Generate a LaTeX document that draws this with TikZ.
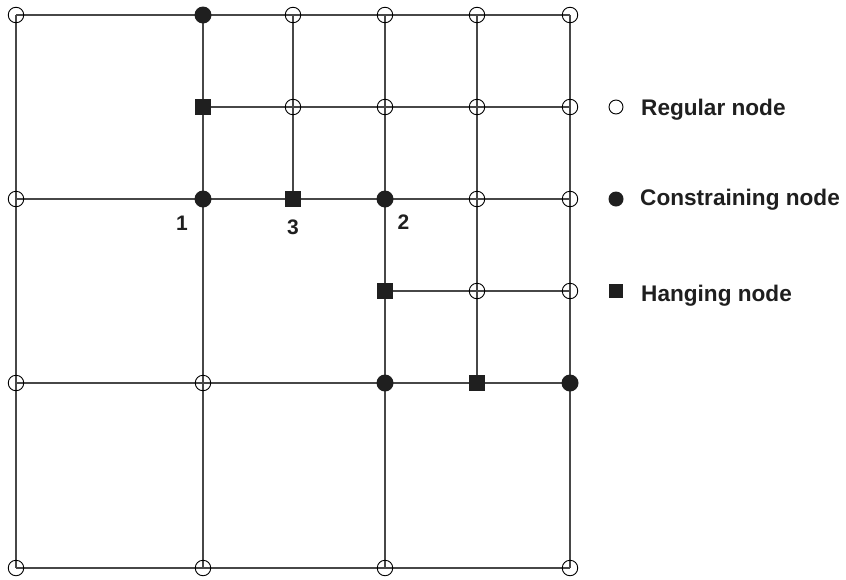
\documentclass[tikz,border=0pt]{standalone}
\usepackage{fontspec}
\setmainfont{Liberation Sans}
\usetikzlibrary{backgrounds}
\begin{document}
\begin{tikzpicture}[x=1pt,y=-1pt,
 reg/.style={circle,draw=black,line width=0.9pt,minimum size=15.5pt,inner sep=0pt},
 con/.style={circle,fill=black!88,minimum size=17pt,inner sep=0pt},
 hang/.style={rectangle,fill=black!88,minimum size=16.5pt,inner sep=0pt},
 gridline/.style={draw=black!72,line width=1.3pt},
 lbl/.style={font=\fontsize{21}{25}\selectfont\bfseries,inner sep=0pt,text=black!88},
 leglbl/.style={font=\fontsize{22.6}{27}\selectfont\bfseries,inner sep=0pt,text=black!88},
 legreg/.style={circle,draw=black,line width=0.9pt,minimum size=14pt,inner sep=0pt},
 legcon/.style={circle,fill=black!88,minimum size=15pt,inner sep=0pt},
 leghang/.style={rectangle,fill=black!88,minimum size=14.5pt,inner sep=0pt}]
\useasboundingbox (0,0) rectangle (846,579);
% columns: 16,203,293,385,477,570 ; rows: 15,107,199,291,383,568
% row 0
\node[reg]  (a0) at (16,15) {};
\node[con]  (b0) at (203,15) {};
\node[reg]  (c0) at (293,15) {};
\node[reg]  (d0) at (385,15) {};
\node[reg]  (e0) at (477,15) {};
\node[reg]  (f0) at (570,15) {};
% row 1
\node[hang] (b1) at (203,107) {};
\node[reg]  (c1) at (293,107) {};
\node[reg]  (d1) at (385,107) {};
\node[reg]  (e1) at (477,107) {};
\node[reg]  (f1) at (570,107) {};
% row 2
\node[reg]  (a2) at (16,199) {};
\node[con]  (b2) at (203,199) {};
\node[hang] (c2) at (293,199) {};
\node[con]  (d2) at (385,199) {};
\node[reg]  (e2) at (477,199) {};
\node[reg]  (f2) at (570,199) {};
% row 3
\node[hang] (d3) at (385,291) {};
\node[reg]  (e3) at (477,291) {};
\node[reg]  (f3) at (570,291) {};
% row 4
\node[reg]  (a4) at (16,383) {};
\node[reg]  (b4) at (203,383) {};
\node[con]  (d4) at (385,383) {};
\node[hang] (e4) at (477,383) {};
\node[con]  (f4) at (570,383) {};
% row 5
\node[reg]  (a5) at (16,568) {};
\node[reg]  (b5) at (203,568) {};
\node[reg]  (d5) at (385,568) {};
\node[reg]  (f5) at (570,568) {};
\begin{pgfonlayer}{background}
% horizontal
\draw[gridline] (a0.center) -- (f0.center);
\draw[gridline] (b1.center) -- (f1.center);
\draw[gridline] (a2.center) -- (f2.center);
\draw[gridline] (d3.center) -- (f3.center);
\draw[gridline] (a4.center) -- (f4.center);
\draw[gridline] (a5.center) -- (f5.center);
% vertical
\draw[gridline] (a0.center) -- (a5.center);
\draw[gridline] (b0.center) -- (b5.center);
\draw[gridline] (c0.center) -- (c2.center);
\draw[gridline] (d0.center) -- (d5.center);
\draw[gridline] (e0.center) -- (e4.center);
\draw[gridline] (f0.center) -- (f5.center);
\end{pgfonlayer}
% labels
\node[lbl,anchor=base] (l1) at (182,230) {1};
\node[lbl,anchor=base] (l3) at (293,234) {3};
\node[lbl,anchor=base] (l2) at (403.5,229) {2};
% legend
\node[legreg]  (kr) at (616,107) {};
\node[legcon]  (kc) at (616,199) {};
\node[leghang] (kh) at (616,291) {};
\node[leglbl,anchor=base west] (tr) at (641,115.5) {Regular node};
\node[leglbl,anchor=base west] (tc) at (640,205.5) {Constraining node};
\node[leglbl,anchor=base west] (th) at (641,301.5) {Hanging node};
\end{tikzpicture}
\end{document}
